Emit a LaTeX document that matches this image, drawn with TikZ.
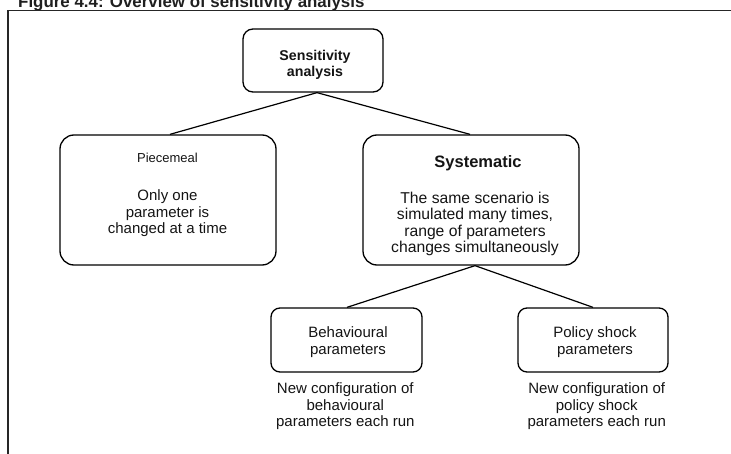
\documentclass[tikz,border=0pt]{standalone}
\usepackage{fontspec}
\setmainfont{Liberation Sans}
\newcommand\setfs[2]{\fontsize{#1}{#2}\selectfont}
\begin{document}
\begin{tikzpicture}[x=1pt,y=-1pt,
  frame/.style={draw=black!85, line width=1.4pt},
  box/.style={draw=black, line width=1.3pt, rounded corners=#1, inner sep=0pt},
  box/.default=10pt,
  link/.style={draw=black, line width=1.2pt},
  txt/.style={inner sep=0pt, align=center, anchor=north, text=black!92,
    execute at begin node=\strut},
  body/.style={txt, font=\setfs{15}{16.6}}]
\useasboundingbox (0,0) rectangle (731,454);
\clip (0,0) rectangle (731,454);

% caption, partly above the page edge
\node[inner sep=0pt, anchor=base west, text=black!88, font=\bfseries\setfs{16.9}{19}] (caption) at (18,7.3)
  {Figure 4.4: Overview of sensitivity analysis};

% open frame: top rule and left rule
\draw[frame] (731,10.8) -- (8,10.8) -- (8,454);

% boxes
\node[box=10pt, minimum width=140pt, minimum height=63pt] (sens) at (313,60.5) {};
\node[box=14pt, minimum width=216pt, minimum height=130pt] (piece) at (168,200) {};
\node[box=14pt, minimum width=216pt, minimum height=130pt] (sys) at (471,200) {};
\node[box=9pt, minimum width=151pt, minimum height=64pt] (beh) at (346.5,340) {};
\node[box=9pt, minimum width=150pt, minimum height=64pt] (pol) at (593,340) {};

% connectors
\draw[link] ([xshift=4pt]sens.south) -- ([xshift=2pt]piece.north);
\draw[link] ([xshift=4pt]sens.south) -- ([xshift=-1pt]sys.north);
\draw[link] ([xshift=4pt]sys.south) -- ([xshift=0.5pt]beh.north);
\draw[link] ([xshift=4pt]sys.south) -- (pol.north);

% texts
\node[txt, font=\bfseries\setfs{14.2}{16}] (senstxt) at (315,49.8) {Sensitivity\\analysis};
\node[txt, font=\setfs{13}{16}] (piecehead) at (167.5,151.1) {Piecemeal};
\node[body, font=\setfs{15}{16.5}] (piecetxt) at (167.5,189.45)
  {Only one\\parameter is\\changed at a time};
\node[txt, font=\bfseries\setfs{16.5}{18}] (syshead) at (478,155.1) {Systematic};
\node[body, font=\setfs{15.7}{16.3}] (systxt) at (475,192.1)
  {The same scenario is\\simulated many times,\\range of parameters\\changes simultaneously};
\node[body] (behtxt) at (348,326.6) {Behavioural\\parameters};
\node[body] (poltxt) at (595,326.6) {Policy shock\\parameters};
\node[body] (behnote) at (345.3,382.6) {New configuration of\\behavioural\\parameters each run};
\node[body] (polnote) at (596.7,382.6) {New configuration of\\policy shock\\parameters each run};
\end{tikzpicture}
\end{document}
